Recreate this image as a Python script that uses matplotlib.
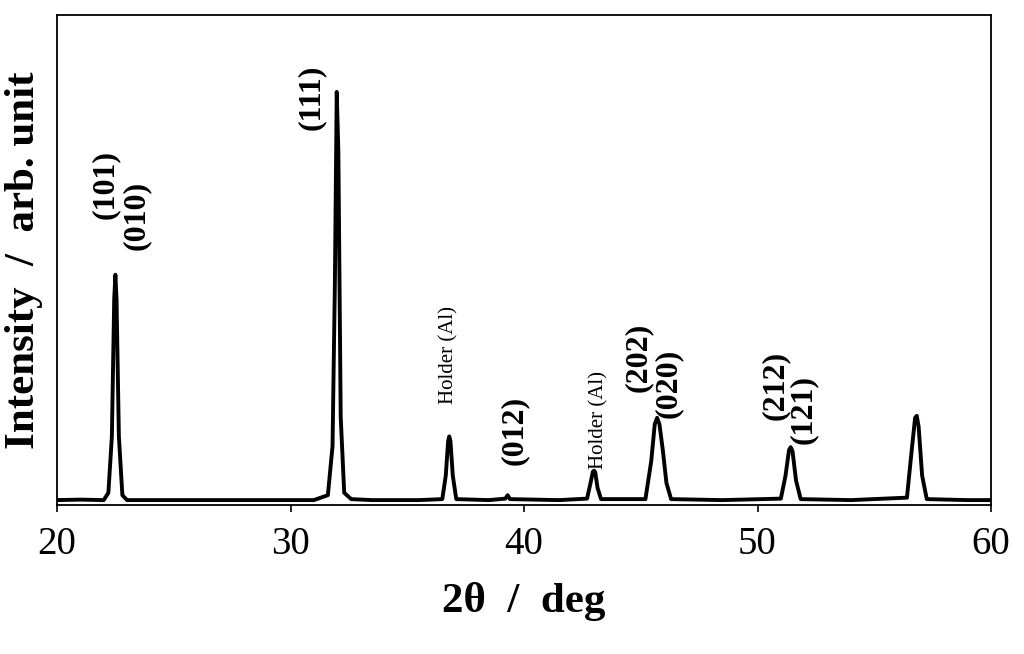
import matplotlib
matplotlib.use("Agg")
import matplotlib.pyplot as plt

plt.rcParams['font.family'] = ['Liberation Serif', 'DejaVu Serif']

two_theta = [20.0, 21.0, 22.0, 22.2, 22.35, 22.45, 22.5, 22.55, 22.65, 22.8, 23.0, 25.0, 28.0, 31.0,
             31.6, 31.8, 31.9, 31.98, 32.05, 32.15, 32.3, 32.6, 33.5, 35.5, 36.5, 36.65, 36.75, 36.8,
             36.85, 36.95, 37.1, 38.5, 39.2, 39.3, 39.4, 41.5, 42.7, 42.85, 42.95, 43.0, 43.05, 43.15,
             43.3, 45.2, 45.45, 45.6, 45.7, 45.8, 45.95, 46.1, 46.3, 48.5, 51.0, 51.2, 51.35, 51.42,
             51.5, 51.65, 51.85, 54.0, 56.4, 56.6, 56.75, 56.82, 56.9, 57.05, 57.25, 59.0, 60.0]
intensity = [1.0, 1.1, 1.0, 2.5, 14.0, 42.0, 47.0, 42.0, 14.0, 2.0, 1.0, 1.0, 1.0, 1.0,
             2.0, 12.0, 45.0, 84.3, 72.0, 18.0, 2.5, 1.2, 1.0, 1.0, 1.2, 6.0, 13.0, 14.0,
             13.0, 6.0, 1.2, 1.0, 1.3, 2.0, 1.2, 1.0, 1.3, 4.5, 6.8, 7.0, 6.7, 3.5,
             1.2, 1.2, 9.0, 16.5, 17.8, 16.5, 11.0, 4.5, 1.2, 1.0, 1.3, 6.0, 11.2, 11.8,
             11.0, 5.0, 1.2, 1.0, 1.5, 11.0, 17.8, 18.2, 16.0, 6.0, 1.2, 1.0, 1.0]

fig = plt.figure(figsize=(10.24, 6.54), dpi=100)
ax = fig.add_axes([57/1024, 1-505/654, 934/1024, 490/654])
ax.plot(two_theta, intensity, color='black', lw=2.8)
ax.set_xlim(20, 60)
ax.set_ylim(0, 100)
ax.set_yticks([])
ax.set_xticks([20, 30, 40, 50, 60])
ax.tick_params(axis='x', labelsize=28, direction='out', length=5, width=1.2, pad=10)
for s in ax.spines.values():
    s.set_linewidth(1.3)
ax.set_xlabel('2θ  /  deg', fontsize=31, fontweight='bold', labelpad=14)
ax.set_ylabel('Intensity  /  arb. unit', fontsize=31, fontweight='bold', labelpad=10)

def ypx(p):
    return (505 - p) / 490 * 100

labels = [(22.05, 185, '(101)', True), (23.4, 215, '(010)', True), (30.9, 97, '(111)', True),
          (36.8, 355, 'Holder (Al)', False), (39.6, 430, '(012)', True),
          (43.2, 420, 'Holder (Al)', False), (44.9, 357, '(202)', True), (46.2, 383, '(020)', True),
          (50.75, 385, '(212)', True), (51.95, 410, '(121)', True)]
for x, y, t, b in labels:
    ax.text(x, ypx(y), t, rotation=90, ha='center', va='center',
            fontsize=23 if b else 15, fontweight='bold' if b else 'normal')

fig.savefig('out.png', dpi=100)
